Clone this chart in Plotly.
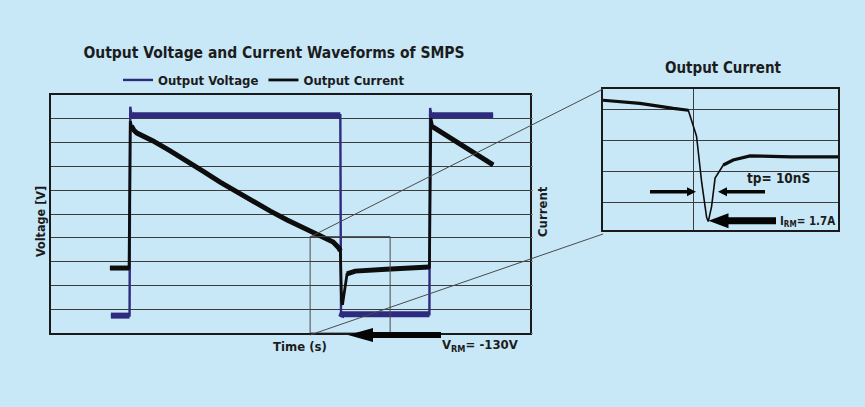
import plotly.graph_objects as go

# ---------------- data ----------------
# main scope trace: time (µs, arbitrary screen units), voltage (V), current (A)
volt_time = [12.5, 16.4, 16.55, 16.75, 17.0, 60.4, 60.55, 60.8, 79.0, 79.15, 79.35, 79.6, 92.3]
volt_v = [-131, -131, 308, 294, 290, 290, -134, -128, -128, 305, 294, 290, 290]

curr_time = [12.3, 16.3, 16.55, 16.8, 17.3, 17.95, 21.3, 24.8, 28.4, 31.8, 35.3, 38.7, 42.2,
             45.8, 49.3, 52.8, 56.2, 58.9, 60.1, 60.4, 60.65, 60.85, 61.2, 61.8, 63.5, 70.0, 79.0,
             79.3, 79.7, 81.8, 84.2, 86.8, 89.6, 92.3]
curr_a = [-0.27, -0.27, 5.9, 5.7, 5.52, 5.40, 5.07, 4.66, 4.23, 3.79, 3.34, 2.93, 2.50,
          2.12, 1.75, 1.42, 1.12, 0.82, 0.57, 0.45, -1.61, -1.82, -1.28, -0.52, -0.4, -0.32, -0.23,
          6.03, 5.66, 5.4, 5.1, 4.77, 4.42, 4.06]

# inset: reverse-recovery detail, time (ns), current (A)
ins_time = [0, 15.7, 29.9, 36.3, 39.8, 42.0, 44.1, 44.8, 46.2, 47.7, 51.2, 55.4, 62.6, 80.0, 100.0]
ins_a = [2.15, 2.05, 1.89, 1.83, 1.0, -0.48, -1.6, -1.73, -1.25, -0.34, 0.08, 0.24, 0.37, 0.34, 0.34]

zoom_window_t = [54.1, 70.8]
zoom_window_v = [-167.5, 35.0]

V_RM = "-130V"
I_RM = "1.7A"
T_P = "10nS"

# ---------------- layout helpers ----------------
W, H = 865, 407
BG = "#c8e8f8"
NAVY = "#2e2b7e"
INK = "#1c1c1c"
FONT = "Liberation Sans Narrow, DejaVu Sans Condensed, Arial Narrow, sans-serif"


def px(x):
    return x / W


def py(y):
    return 1 - y / H


MAIN_L, MAIN_R, MAIN_T, MAIN_B = 51, 530, 95, 333
INS_L, INS_R, INS_T, INS_B = 603, 838, 89.3, 230

# pixel scales (for separating steep edges from noisy flat bands)
SX_MAIN = (MAIN_R - MAIN_L) / 100.0
SY_V = (MAIN_B - MAIN_T) / 500.0
SY_I = (MAIN_B - MAIN_T) / 10.0
SX_INS = (INS_R - INS_L) / 100.0
SY_INS = (INS_B - INS_T) / 4.5


def flat_parts(xs, ys, sx, sy, thr=2.5):
    ox, oy = [], []
    for i in range(len(xs) - 1):
        dxp = abs(xs[i + 1] - xs[i]) * sx
        dyp = abs(ys[i + 1] - ys[i]) * sy
        if dyp <= thr * dxp:
            if ox and ox[-1] == xs[i] and oy[-1] == ys[i]:
                ox.append(xs[i + 1]); oy.append(ys[i + 1])
            else:
                if ox:
                    ox.append(None); oy.append(None)
                ox += [xs[i], xs[i + 1]]; oy += [ys[i], ys[i + 1]]
    return ox, oy


fig = go.Figure()

# voltage
fig.add_trace(go.Scatter(x=volt_time, y=volt_v, mode="lines", name="Output Voltage",
                         line=dict(color=NAVY, width=2.4), xaxis="x", yaxis="y"))
fx, fy = flat_parts(volt_time, volt_v, SX_MAIN, SY_V)
fig.add_trace(go.Scatter(x=fx, y=fy, mode="lines", showlegend=False, hoverinfo="skip",
                         line=dict(color=NAVY, width=6), xaxis="x", yaxis="y"))
# current
fig.add_trace(go.Scatter(x=curr_time, y=curr_a, mode="lines", name="Output Current",
                         line=dict(color="#0d0d0d", width=2.8), xaxis="x", yaxis="y3"))
fx, fy = flat_parts(curr_time, curr_a, SX_MAIN, SY_I)
fig.add_trace(go.Scatter(x=fx, y=fy, mode="lines", showlegend=False, hoverinfo="skip",
                         line=dict(color="#0d0d0d", width=5), xaxis="x", yaxis="y3"))
# inset
fig.add_trace(go.Scatter(x=ins_time, y=ins_a, mode="lines", showlegend=False,
                         line=dict(color="#0d0d0d", width=1.6), xaxis="x2", yaxis="y4"))
fx, fy = flat_parts(ins_time, ins_a, SX_INS, SY_INS, thr=1.2)
fig.add_trace(go.Scatter(x=fx, y=fy, mode="lines", showlegend=False, hoverinfo="skip",
                         line=dict(color="#0d0d0d", width=3.2), xaxis="x2", yaxis="y4"))

axis_common = dict(showticklabels=False, zeroline=False, showline=True, mirror=True,
                   linecolor="#1a1a1a", linewidth=2, ticks="")


def arrow(tip_x, tail_x, y, body, head_len, head_h):
    d = 1 if tail_x > tip_x else -1
    base = tip_x + d * head_len
    pts = [(tip_x, y), (base, y - head_h / 2), (base, y - body / 2), (tail_x, y - body / 2),
           (tail_x, y + body / 2), (base, y + body / 2), (base, y + head_h / 2)]
    path = "M " + " L ".join(f"{px(a):.5f},{py(b):.5f}" for a, b in pts) + " Z"
    return dict(type="path", xref="paper", yref="paper", path=path,
                fillcolor="#050505", line=dict(width=0), layer="above")


shapes = [
    dict(type="rect", xref="x", yref="y", x0=zoom_window_t[0], x1=zoom_window_t[1],
         y0=zoom_window_v[0], y1=zoom_window_v[1], line=dict(color="#4a4a4a", width=1)),
    dict(type="line", xref="paper", yref="paper", x0=px(310), y0=py(237), x1=px(603), y1=py(89),
         line=dict(color="#4a4a4a", width=1)),
    dict(type="line", xref="paper", yref="paper", x0=px(310), y0=py(335), x1=px(603), y1=py(234),
         line=dict(color="#4a4a4a", width=1)),
    arrow(348, 441, 335, 6, 25, 14),
    arrow(696, 650, 191.7, 3.5, 9, 9),
    arrow(718, 765, 191.7, 3.5, 9, 9),
    arrow(708.5, 776, 220.7, 7, 20, 15),
]

tf = dict(family=FONT, size=13, color=INK, weight="bold")


def label(text, x, y, font, angle=0):
    return dict(text=text, x=px(x), y=py(y), xref="paper", yref="paper", showarrow=False,
                xanchor="center", yanchor="middle", textangle=angle, font=font)


annotations = [
    label("Output Current", 723, 68, dict(family=FONT, size=15, color=INK, weight="bold")),
    label("Time (s)", 300, 346, tf),
    label("Voltage [V]", 41, 222, dict(family=FONT, size=12.5, color=INK, weight="bold"), -90),
    label("Current", 542, 212, tf, -90),
    label(f"V<sub>RM</sub>= {V_RM}", 480, 345, tf),
    label(f"tp= {T_P}", 778, 178, dict(family=FONT, size=13.5, color=INK, weight="bold")),
    label(f"I<sub>RM</sub>= {I_RM}", 807, 221, dict(family=FONT, size=11.5, color=INK, weight="bold")),
]

fig.update_layout(
    width=W, height=H, autosize=False,
    margin=dict(l=0, r=0, t=0, b=0),
    paper_bgcolor=BG, plot_bgcolor=BG,
    font=dict(family=FONT, color=INK),
    title=dict(text="Output Voltage and Current Waveforms of SMPS", x=px(274), xanchor="center",
               y=py(53), yanchor="middle", font=dict(family=FONT, size=15.5, color=INK, weight="bold")),
    showlegend=True,
    legend=dict(orientation="h", x=px(118), xanchor="left", y=py(80), yanchor="middle",
                bgcolor="rgba(0,0,0,0)", itemwidth=30, tracegroupgap=0,
                font=dict(family=FONT, size=13, color=INK, weight="bold")),
    xaxis=dict(domain=[px(MAIN_L), px(MAIN_R)], range=[0, 100], showgrid=False, anchor="y", **axis_common),
    yaxis=dict(domain=[py(MAIN_B), py(MAIN_T)], range=[-167.5, 332.5], tick0=-167.5, dtick=50,
               showgrid=True, gridcolor="#3c3c3c", gridwidth=1, anchor="x", **axis_common),
    yaxis3=dict(overlaying="y", side="right", anchor="x", range=[-3, 7], dtick=1, showgrid=False,
                showticklabels=False, zeroline=False, ticks="outside", ticklen=2, tickcolor="#7d8fa0"),
    xaxis2=dict(domain=[px(INS_L), px(INS_R)], range=[0, 100], tickvals=[38.4], showgrid=True,
                gridcolor="#3c3c3c", gridwidth=1, anchor="y4", **axis_common),
    yaxis4=dict(domain=[py(INS_B), py(INS_T)], range=[-2.0, 2.5], tick0=-1.13, dtick=1, showgrid=True,
                gridcolor="#3c3c3c", gridwidth=1, anchor="x2", **axis_common),
    shapes=shapes,
    annotations=annotations,
)

fig.write_html("out.html", config={"displayModeBar": False},
               post_script="document.body.style.margin='0';document.body.style.overflow='hidden';")
